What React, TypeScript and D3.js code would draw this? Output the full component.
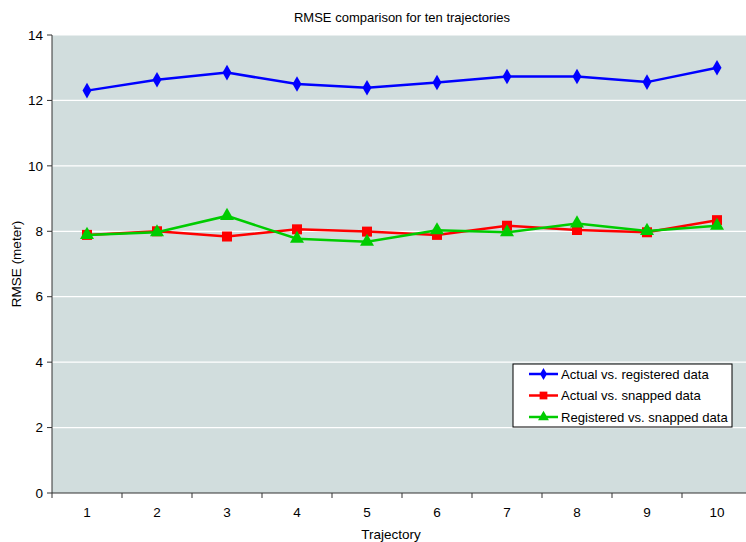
import React from "react";
import * as d3 from "d3";

const categories = ["1", "2", "3", "4", "5", "6", "7", "8", "9", "10"];
const actualVsRegistered = [12.3, 12.63, 12.85, 12.5, 12.39, 12.55, 12.73, 12.73, 12.56, 13.0];
const actualVsSnapped = [7.89, 8.0, 7.84, 8.06, 7.99, 7.89, 8.17, 8.04, 7.97, 8.34];
const registeredVsSnapped = [7.89, 7.97, 8.47, 7.77, 7.68, 8.03, 7.97, 8.24, 8.01, 8.17];
const yTicks = [0, 2, 4, 6, 8, 10, 12, 14];
const seriesNames = ["Actual vs. registered data", "Actual vs. snapped data", "Registered vs. snapped data"];

const W = 746;
const H = 542;
const M = { left: 52, top: 35, right: 752, bottom: 493 };
const FONT = "'Liberation Sans', Arial, sans-serif";

export default function App() {
  const x = d3.scaleBand<string>().domain(categories).range([M.left, M.right]);
  const y = d3.scaleLinear().domain([0, 14]).range([M.bottom, M.top]);
  const cx = (c: string) => (x(c) as number) + x.bandwidth() / 2;

  const series = [
    { name: seriesNames[0], values: actualVsRegistered, color: "#0000ff", shape: d3.symbolDiamond, size: 70 },
    { name: seriesNames[1], values: actualVsSnapped, color: "#ff0000", shape: d3.symbolSquare, size: 100 },
    { name: seriesNames[2], values: registeredVsSnapped, color: "#00cc00", shape: d3.symbolTriangle, size: 85 },
  ];

  const line = d3
    .line<number>()
    .x((_, i) => cx(categories[i]))
    .y((d) => y(d));

  const boundaries = d3.range(categories.length + 1).map((i) => M.left + i * x.bandwidth());

  const legX = 513;
  const legY = 364;
  const legW = 219;
  const legH = 63;

  return (
    <svg
      width={W}
      height={H}
      style={{ position: "absolute", left: 0, top: 0, display: "block", background: "#ffffff" }}
      fontFamily={FONT}
    >
      <rect x={M.left} y={M.top} width={M.right - M.left} height={M.bottom - M.top} fill="#d1dddd" />
      {yTicks.filter((t) => t > 0).map((t) => (
        <line key={"g" + t} x1={M.left} x2={M.right} y1={y(t)} y2={y(t)} stroke="#ffffff" strokeWidth={1.2} />
      ))}
      {/* y axis */}
      <line x1={M.left} x2={M.left} y1={M.top} y2={M.bottom} stroke="#333" strokeWidth={1} />
      {yTicks.map((t) => (
        <g key={"yt" + t}>
          <line x1={M.left - 5} x2={M.left} y1={y(t)} y2={y(t)} stroke="#333" />
          <text x={M.left - 9} y={y(t)} dy="0.35em" textAnchor="end" fontSize={13.5} fill="#000">
            {t}
          </text>
        </g>
      ))}
      {/* x axis */}
      <line x1={M.left} x2={M.right} y1={M.bottom} y2={M.bottom} stroke="#333" strokeWidth={1} />
      {boundaries.map((b, i) => (
        <line key={"xt" + i} x1={b} x2={b} y1={M.bottom} y2={M.bottom + 5} stroke="#333" />
      ))}
      {categories.map((c) => (
        <text key={"xl" + c} x={cx(c)} y={M.bottom + 24} textAnchor="middle" fontSize={13.5} fill="#000">
          {c}
        </text>
      ))}
      {/* titles */}
      <text x={402} y={22} textAnchor="middle" fontSize={13} fill="#000">
        RMSE comparison for ten trajectories
      </text>
      <text x={391} y={539} textAnchor="middle" fontSize={13.5} fill="#000">
        Trajectory
      </text>
      <text
        transform={`translate(21, ${(M.top + M.bottom) / 2}) rotate(-90)`}
        textAnchor="middle"
        fontSize={13.5}
        fill="#000"
      >
        RMSE (meter)
      </text>
      {/* series */}
      {series.map((s) => (
        <g key={s.name}>
          <path d={line(s.values) || ""} fill="none" stroke={s.color} strokeWidth={2.5} />
          {s.values.map((v, i) => (
            <path
              key={i}
              d={d3.symbol(s.shape, s.size)() || ""}
              transform={`translate(${cx(categories[i])},${y(v)})`}
              fill={s.color}
            />
          ))}
        </g>
      ))}
      {/* legend */}
      <rect x={legX} y={legY} width={legW} height={legH} fill="#ffffff" stroke="#000" strokeWidth={1} />
      {series.map((s, i) => {
        const ry = legY + 10 + i * 21.5;
        return (
          <g key={"leg" + i}>
            <line x1={legX + 16} x2={legX + 45} y1={ry} y2={ry} stroke={s.color} strokeWidth={2.5} />
            <path
              d={d3.symbol(s.shape, s.size * 0.6)() || ""}
              transform={`translate(${legX + 30.5},${ry})`}
              fill={s.color}
            />
            <text x={legX + 48} y={ry} dy="0.35em" fontSize={13.1} fill="#000">
              {s.name}
            </text>
          </g>
        );
      })}
    </svg>
  );
}
